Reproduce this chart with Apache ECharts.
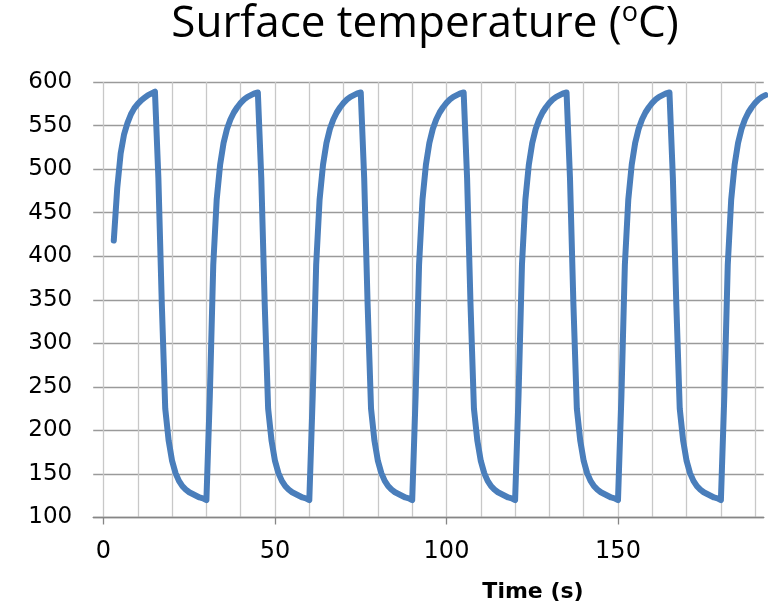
<!DOCTYPE html>
<html>
<head>
<meta charset="utf-8">
<script src="https://cdn.jsdelivr.net/npm/echarts@6/dist/echarts.min.js"></script>
<style>
  html, body { margin: 0; padding: 0; background: #ffffff; }
  #chart { width: 774px; height: 608px; }
</style>
</head>
<body>
<div id="chart"></div>
<script>
// Measured surface temperature over repeated heat/cool cycles (30 s period)
const timeS = [
  3, 4, 5, 6, 7, 8, 9, 10, 11, 12, 13, 14, 15, 16, 17, 18, 19, 20, 21, 22, 23, 24, 25, 26, 27, 28, 29,
  30, 31, 32, 33, 34, 35, 36, 37, 38, 39, 40, 41, 42, 43, 44, 45, 46, 47, 48, 49, 50, 51, 52, 53, 54, 55, 56, 57, 58, 59,
  60, 61, 62, 63, 64, 65, 66, 67, 68, 69, 70, 71, 72, 73, 74, 75, 76, 77, 78, 79, 80, 81, 82, 83, 84, 85, 86, 87, 88, 89,
  90, 91, 92, 93, 94, 95, 96, 97, 98, 99, 100, 101, 102, 103, 104, 105, 106, 107, 108, 109, 110, 111, 112, 113, 114, 115, 116, 117, 118, 119,
  120, 121, 122, 123, 124, 125, 126, 127, 128, 129, 130, 131, 132, 133, 134, 135, 136, 137, 138, 139, 140, 141, 142, 143, 144, 145, 146, 147, 148, 149,
  150, 151, 152, 153, 154, 155, 156, 157, 158, 159, 160, 161, 162, 163, 164, 165, 166, 167, 168, 169, 170, 171, 172, 173, 174, 175, 176, 177, 178, 179,
  180, 181, 182, 183, 184, 185, 186, 187, 188, 189, 190, 191, 192, 193
];

const tempC = [
  418, 478, 518, 540, 553, 563, 570, 575, 579, 582, 585, 587, 589, 490, 345, 225, 188, 165, 151, 142, 136, 132, 129, 127, 125, 123, 122,
  120, 240, 390, 465, 505, 530, 546, 557, 565, 571, 576, 580, 583, 585, 587, 588, 490, 345, 225, 188, 165, 151, 142, 136, 132, 129, 127, 125, 123, 122,
  120, 240, 390, 465, 505, 530, 546, 557, 565, 571, 576, 580, 583, 585, 587, 588, 490, 345, 225, 188, 165, 151, 142, 136, 132, 129, 127, 125, 123, 122,
  120, 240, 390, 465, 505, 530, 546, 557, 565, 571, 576, 580, 583, 585, 587, 588, 490, 345, 225, 188, 165, 151, 142, 136, 132, 129, 127, 125, 123, 122,
  120, 240, 390, 465, 505, 530, 546, 557, 565, 571, 576, 580, 583, 585, 587, 588, 490, 345, 225, 188, 165, 151, 142, 136, 132, 129, 127, 125, 123, 122,
  120, 240, 390, 465, 505, 530, 546, 557, 565, 571, 576, 580, 583, 585, 587, 588, 490, 345, 225, 188, 165, 151, 142, 136, 132, 129, 127, 125, 123, 122,
  120, 240, 390, 465, 505, 530, 546, 557, 565, 571, 576, 580, 583, 585
];

const xTickValues = [0, 50, 100, 150];
const titleMain = 'Surface temperature (';
const titleSup = 'o';
const titleEnd = 'C)';
const xAxisTitle = 'Time (s)';

const points = timeS.map((t, i) => [t, tempC[i]]);

const X_MAX = 192.5;
const PX_PER_S = 3.43;
const X0 = 103.5;           // pixel position of t = 0
const PLOT_TOP = 82;
const PLOT_H = 435.5;

const chart = echarts.init(document.getElementById('chart'), null, { renderer: 'canvas' });

chart.setOption({
  animation: false,
  backgroundColor: '#ffffff',
  grid: [
    // outer frame: horizontal grid lines and the value axis labels
    { left: X0 - 3 * PX_PER_S, top: PLOT_TOP, width: (X_MAX + 3) * PX_PER_S, height: PLOT_H },
    // time frame starting at t = 0: vertical grid lines, time ticks and the curve
    { left: X0, top: PLOT_TOP, width: X_MAX * PX_PER_S, height: PLOT_H }
  ],
  graphic: [
    {
      type: 'text',
      x: 425,
      y: 24,
      style: {
        text: '{m|' + titleMain + '}{s|' + titleSup + '}{m|' + titleEnd + '}',
        align: 'center',
        verticalAlign: 'middle',
        rich: {
          m: { fontFamily: 'Open Sans', fontSize: 44, fill: '#000000', lineHeight: 52 },
          s: { fontFamily: 'Open Sans', fontSize: 27, fill: '#000000', lineHeight: 52, padding: [0, 0, 21, 0] }
        }
      }
    },
    {
      type: 'text',
      x: 533,
      y: 592,
      style: {
        text: xAxisTitle,
        align: 'center',
        verticalAlign: 'middle',
        fontFamily: 'DejaVu Sans',
        fontWeight: 'bold',
        fontSize: 22,
        fill: '#000000'
      }
    }
  ],
  xAxis: [
    {
      gridIndex: 0, type: 'value', min: -3, max: X_MAX,
      axisLine: { show: true, lineStyle: { color: '#868686', width: 1.4 } },
      axisTick: { show: false },
      axisLabel: { show: false },
      splitLine: { show: false }
    },
    {
      gridIndex: 1, type: 'value', min: 0, max: X_MAX, interval: 10, position: 'bottom',
      axisLine: { show: false },
      axisTick: { show: false },
      axisLabel: { show: false },
      splitLine: { show: true, showMinLine: true, showMaxLine: false, lineStyle: { color: '#c8c8c8', width: 1.3 } }
    },
    {
      gridIndex: 1, type: 'value', min: 0, max: X_MAX, position: 'bottom',
      axisLine: { show: false },
      axisTick: { show: true, length: 7, customValues: xTickValues, lineStyle: { color: '#868686', width: 1.3 } },
      axisLabel: {
        show: true, customValues: xTickValues, margin: 22,
        fontFamily: 'DejaVu Sans', fontSize: 24, color: '#000000'
      },
      splitLine: { show: false }
    }
  ],
  yAxis: [
    {
      gridIndex: 0, type: 'value', min: 100, max: 600, interval: 50,
      axisLine: { show: false },
      axisTick: { show: false },
      axisLabel: { margin: 21, fontFamily: 'DejaVu Sans', fontSize: 23, color: '#000000' },
      splitLine: { show: true, lineStyle: { color: '#9a9a9a', width: 1.3 } }
    },
    {
      gridIndex: 1, type: 'value', min: 100, max: 600, show: false,
      splitLine: { show: false }
    }
  ],
  series: [{
    type: 'line',
    xAxisIndex: 1,
    yAxisIndex: 1,
    data: points,
    showSymbol: false,
    smooth: false,
    clip: true,
    lineStyle: { color: '#4a7ebb', width: 6, cap: 'round', join: 'round' },
    z: 5
  }]
});
</script>
</body>
</html>
